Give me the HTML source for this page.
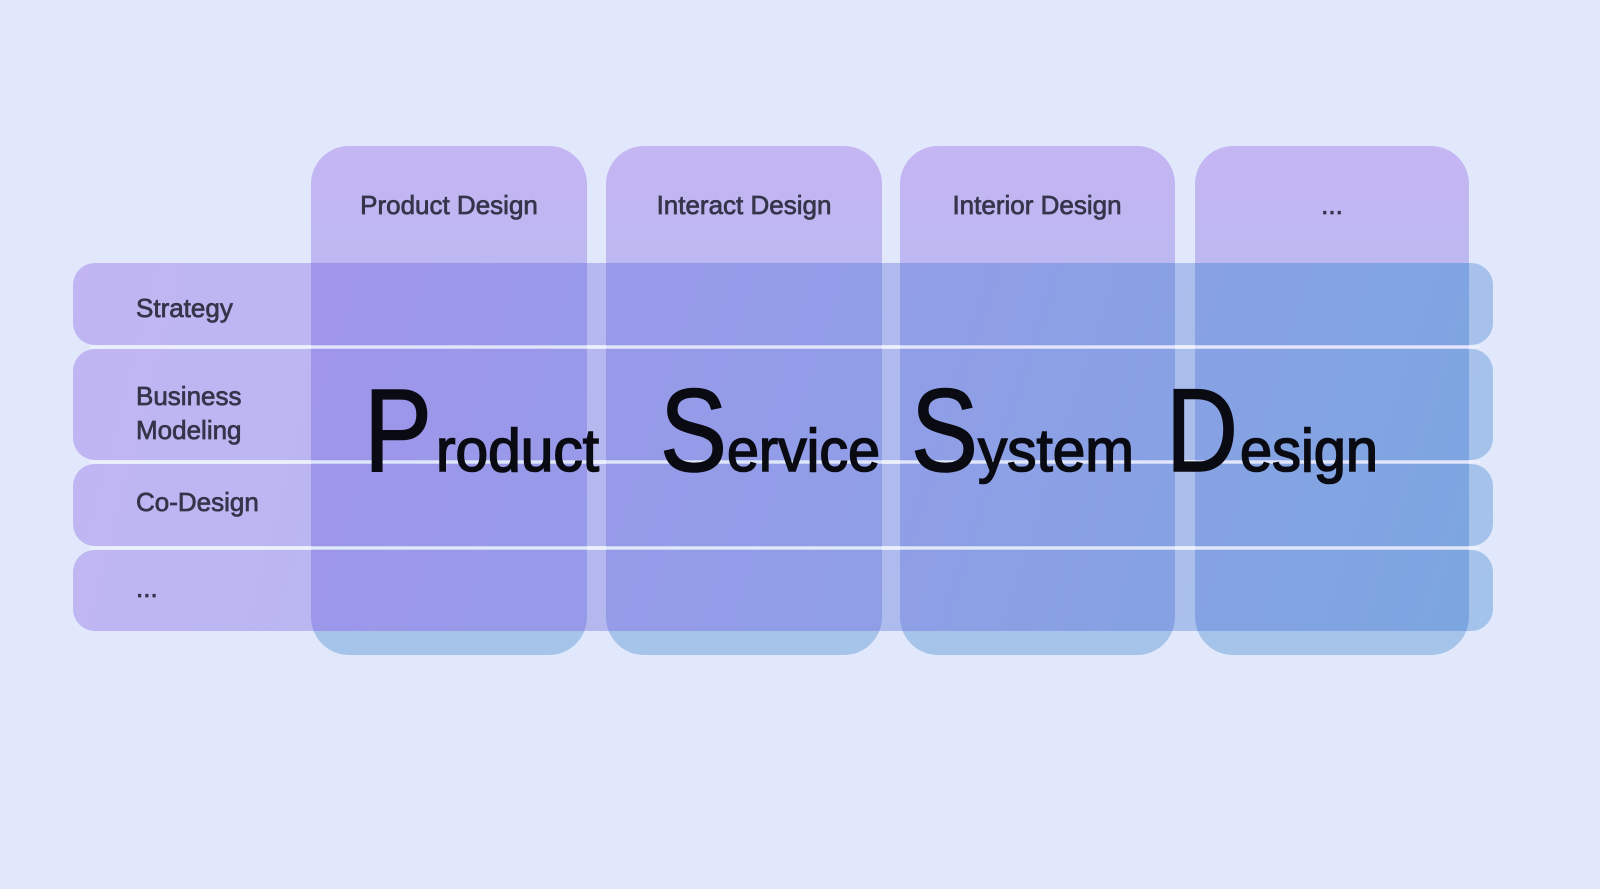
<!DOCTYPE html>
<html><head><meta charset="utf-8"><style>
html,body{margin:0;padding:0;background:#e2e8fb;}
svg{display:block}
text{font-family:"Liberation Sans","DejaVu Sans",sans-serif;}
</style></head><body>
<svg width="1600" height="889" viewBox="0 0 1600 889" xmlns="http://www.w3.org/2000/svg">
<defs>
<linearGradient id="gr" gradientUnits="userSpaceOnUse" x1="73" y1="263" x2="1493" y2="631">
<stop offset="0" stop-color="#c1b5f3"/><stop offset="0.5" stop-color="#b1b9ee"/><stop offset="1" stop-color="#a4c3eb"/></linearGradient>
<linearGradient id="gc" gradientUnits="userSpaceOnUse" x1="0" y1="146" x2="0" y2="655">
<stop offset="0" stop-color="#c4b5f3"/><stop offset="0.45" stop-color="#b6bbef"/><stop offset="1" stop-color="#a5c4ea"/></linearGradient>
<linearGradient id="go" gradientUnits="userSpaceOnUse" x1="311" y1="263" x2="1469" y2="631">
<stop offset="0" stop-color="#a095eb"/><stop offset="0.5" stop-color="#909ee7"/><stop offset="1" stop-color="#7ca6e0"/></linearGradient>
<clipPath id="cols">
<rect x="311" y="146" width="276" height="509" rx="38"/>
<rect x="606" y="146" width="276" height="509" rx="38"/>
<rect x="900" y="146" width="275" height="509" rx="38"/>
<rect x="1195" y="146" width="274" height="509" rx="38"/>
</clipPath>
<g id="rows">
<rect x="73" y="263" width="1420" height="82" rx="22"/>
<rect x="73" y="349" width="1420" height="111" rx="22"/>
<rect x="73" y="464" width="1420" height="82" rx="22"/>
<rect x="73" y="550" width="1420" height="81" rx="22"/>
</g>
</defs>
<use href="#rows" fill="url(#gr)"/>
<g fill="url(#gc)">
<rect x="311" y="146" width="276" height="509" rx="38"/>
<rect x="606" y="146" width="276" height="509" rx="38"/>
<rect x="900" y="146" width="275" height="509" rx="38"/>
<rect x="1195" y="146" width="274" height="509" rx="38"/>
</g>
<g clip-path="url(#cols)"><use href="#rows" fill="url(#go)"/></g>
<g fill="#eef1fc" opacity="0.8">
<rect x="90" y="345.5" width="1390" height="3"/>
<rect x="90" y="460.5" width="1390" height="3"/>
<rect x="90" y="546.5" width="1390" height="3"/>
</g>
<g font-size="26" fill="#34344a" stroke="#34344a" stroke-width="0.7" text-anchor="middle">
<text x="449" y="214">Product Design</text>
<text x="744" y="214">Interact Design</text>
<text x="1037" y="214">Interior Design</text>
<text x="1332" y="214">...</text>
</g>
<g font-size="26" fill="#34344a" stroke="#34344a" stroke-width="0.7">
<text x="136" y="317">Strategy</text>
<text x="136" y="405">Business</text>
<text x="136" y="439">Modeling</text>
<text x="136" y="511">Co-Design</text>
<text x="136" y="597">...</text>
</g>
<g fill="#0a0a12" stroke="#0a0a12" stroke-width="1.6">
<text x="364" y="471" font-size="118" textLength="68" lengthAdjust="spacingAndGlyphs">P</text>
<text x="436" y="471" font-size="60" textLength="163" lengthAdjust="spacingAndGlyphs">roduct</text>
<text x="660" y="471" font-size="118" textLength="67" lengthAdjust="spacingAndGlyphs">S</text>
<text x="727" y="471" font-size="60" textLength="153" lengthAdjust="spacingAndGlyphs">ervice</text>
<text x="911" y="471" font-size="118" textLength="67" lengthAdjust="spacingAndGlyphs">S</text>
<text x="978" y="471" font-size="60" textLength="156" lengthAdjust="spacingAndGlyphs">ystem</text>
<text x="1166" y="471" font-size="118" textLength="72" lengthAdjust="spacingAndGlyphs">D</text>
<text x="1240" y="471" font-size="60" textLength="138" lengthAdjust="spacingAndGlyphs">esign</text>
</g>
</svg>
</body></html>
